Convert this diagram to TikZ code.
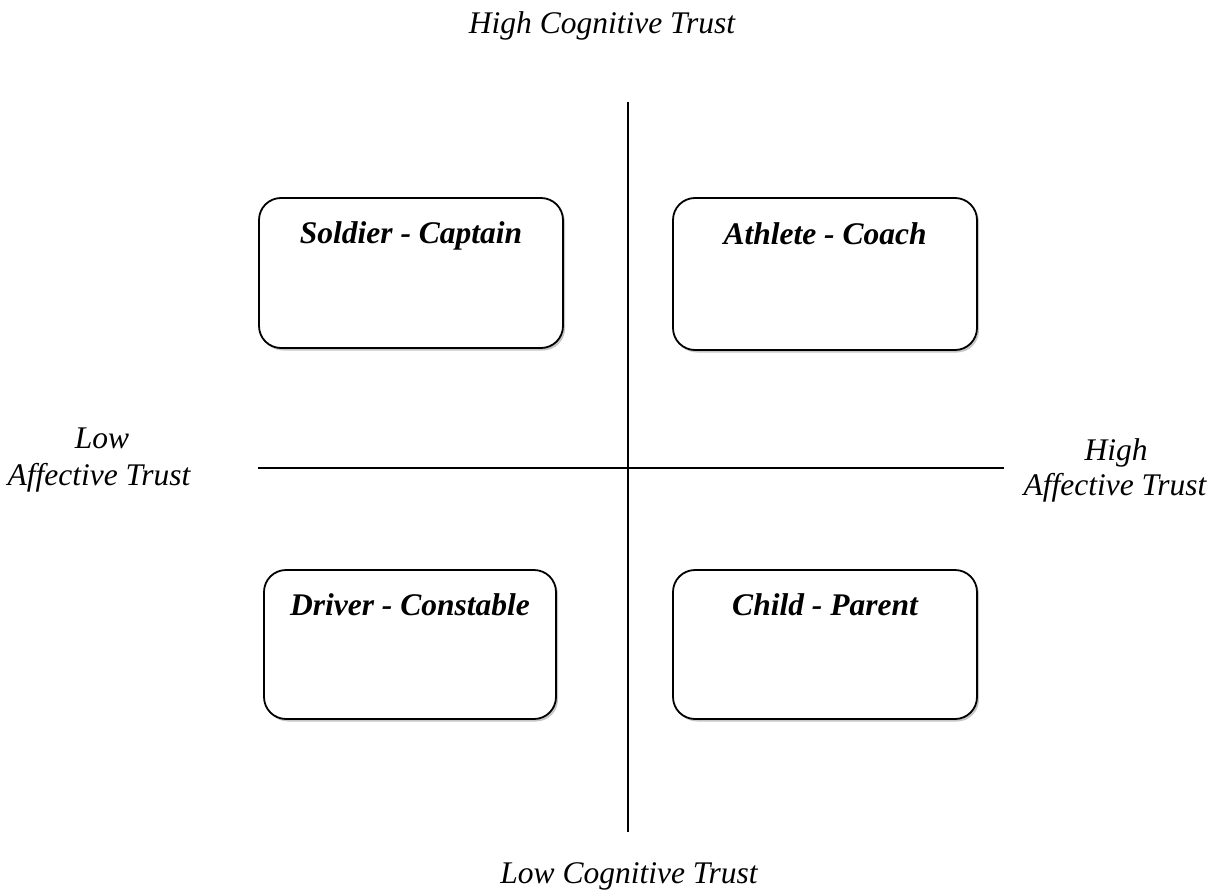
\documentclass[tikz,border=0pt]{standalone}
\usepackage{fontspec}
\setmainfont{Liberation Serif}
\usetikzlibrary{shadows,calc}
\begin{document}
\begin{tikzpicture}[x=1pt,y=-1pt,
  quad/.style={draw=black, line width=1.8pt, rounded corners=22pt, fill=white,
    drop shadow={shadow xshift=2pt, shadow yshift=-2.5pt, fill=gray!45, opacity=1}},
  title/.style={font=\fontsize{31.5}{36}\selectfont\bfseries\itshape, inner sep=0pt, anchor=base},
  axislbl/.style={font=\fontsize{31.5}{36}\selectfont\itshape, inner sep=0pt, anchor=base},
  axis/.style={line width=1.8pt}]
\useasboundingbox (0,0) rectangle (1217,893);
% boxes
\node[quad, minimum width=304pt, minimum height=150pt] (sc) at (411,273) {};
\node[quad, minimum width=304pt, minimum height=152pt] (ac) at (825,274) {};
\node[quad, minimum width=292pt, minimum height=149pt] (dc) at (410,644.5) {};
\node[quad, minimum width=304pt, minimum height=149pt] (cp) at (825,644.5) {};
\node[title] (sct) at ($(sc.north)+(0,46)$) {Soldier - Captain};
\node[title] (act) at ($(ac.north)+(0,47)$) {Athlete - Coach};
\node[title] (dct) at ($(dc.north)+(0,46)$) {Driver - Constable};
\node[title] (cpt) at ($(cp.north)+(0,46)$) {Child - Parent};
% axes
\coordinate (vt) at (628,102);
\coordinate (vb) at (628,832);
\coordinate (hl) at (258,468);
\coordinate (hr) at (1004,468);
\draw[axis] (vt) -- (vb);
\draw[axis] (hl) -- (hr);
% labels
\node[axislbl] (hct) at (602,34) {High Cognitive Trust};
\node[axislbl] (lct) at (629,883) {Low Cognitive Trust};
\node[axislbl] (la1) at (102,448) {Low};
\node[axislbl] (la2) at (99,485) {Affective Trust};
\node[axislbl] (ha1) at (1116,460) {High};
\node[axislbl] (ha2) at (1115,495) {Affective Trust};
\end{tikzpicture}
\end{document}
